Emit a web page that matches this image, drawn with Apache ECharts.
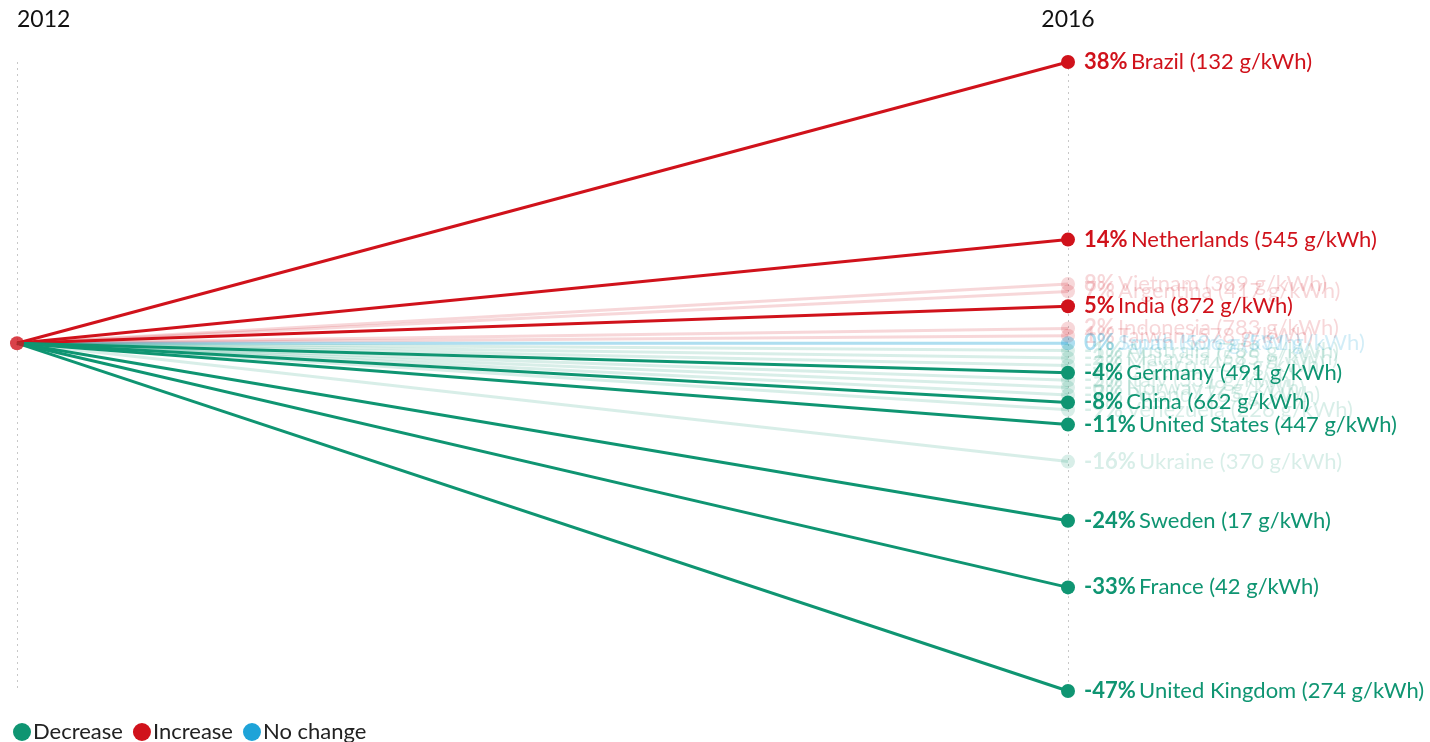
<!DOCTYPE html>
<html>
<head>
<meta charset="utf-8">
<script src="https://cdn.jsdelivr.net/npm/echarts@6/dist/echarts.min.js"></script>
<style>
  html, body { margin: 0; padding: 0; background: #fff; }
  #chart { width: 1430px; height: 742px; }
</style>
</head>
<body>
<div id="chart"></div>
<script>
// Carbon intensity of electricity: change between 2012 and 2016
const years = ['2012', '2016'];

// Highlighted countries
const keyCountries = ['Brazil', 'Netherlands', 'India', 'Germany', 'China', 'United States', 'Sweden', 'France', 'United Kingdom'];
const keyChange    = [38, 14, 5, -4, -8, -11, -24, -33, -47];
const keyIntensity = [132, 545, 872, 491, 662, 447, 17, 42, 274];

// Background countries
const otherCountries = ['Vietnam', 'Argentina', 'Indonesia', 'Taiwan', 'South Korea', 'Japan', 'Australia', 'Malaysia', 'Mexico', 'Italy', 'Norway', 'Poland', 'Venezuela', 'Ukraine'];
const otherChange    = [8, 7, 2, 1, 0, 0, -1, -2, -3, -5, -6, -7, -9, -16];
const otherIntensity = [389, 417, 783, 578, 531, 506, 758, 585, 454, 331, 9, 765, 226, 370];

const groupNames = ['Decrease', 'Increase', 'No change'];
const colors = { Decrease: '#0f9572', Increase: '#d0121b', 'No change': '#1ea3d8' };
const faded  = { Decrease: 'rgba(15,149,114,0.16)', Increase: 'rgba(208,18,27,0.17)', 'No change': 'rgba(30,163,216,0.2)' };

const FONT = 'Lato, "Open Sans", sans-serif';

function group(v) { return v > 0 ? 'Increase' : (v < 0 ? 'Decrease' : 'No change'); }

function makeSeries(name, change, intensity, strong) {
  const g = group(change);
  const c = strong ? colors[g] : faded[g];
  return {
    type: 'line',
    name: name,
    z: strong ? 10 : 2,
    silent: true,
    symbol: 'circle',
    symbolSize: 14,
    lineStyle: { color: c, width: 3 },
    itemStyle: { color: c },
    label: {
      show: true,
      position: 'right',
      distance: 9,
      formatter: () => '{p|' + change + '%} {n|' + name + ' (' + intensity + ' g/kWh)}',
      rich: {
        p: { fontFamily: FONT, fontSize: 22, fontWeight: 'bold', color: c },
        n: { fontFamily: FONT, fontSize: 22, color: c }
      }
    },
    data: [
      { value: 0, symbol: 'none', label: { show: false } },
      { value: change }
    ]
  };
}

const series = [];
otherCountries.forEach((n, i) => series.push(makeSeries(n, otherChange[i], otherIntensity[i], false)));
keyCountries.forEach((n, i) => series.push(makeSeries(n, keyChange[i], keyIntensity[i], true)));

// Common starting point
series.push({
  type: 'scatter', z: 20, silent: true,
  symbol: 'circle', symbolSize: 14,
  itemStyle: { color: colors.Increase },
  data: [[years[0], 0]]
});

// Legend entries
groupNames.forEach(g => series.push({ type: 'line', name: g, data: [], itemStyle: { color: colors[g] } }));

const chart = echarts.init(document.getElementById('chart'));
chart.setOption({
  animation: false,
  backgroundColor: '#fff',
  grid: { left: 17, right: 362, top: 62, bottom: 51 },
  xAxis: {
    type: 'category',
    position: 'top',
    boundaryGap: false,
    data: years,
    axisLine: { show: false },
    axisTick: { show: false },
    axisLabel: { color: '#111', fontFamily: FONT, fontSize: 23, margin: 31, alignMinLabel: 'left' },
    splitLine: { show: true, lineStyle: { color: '#c8c8c8', type: [2, 4], width: 1 } }
  },
  yAxis: {
    type: 'value', min: -47, max: 38,
    show: false,
    splitLine: { show: false }
  },
  legend: {
    data: groupNames,
    left: 8, top: 716,
    icon: 'circle',
    itemWidth: 18, itemHeight: 18, itemGap: 10,
    textStyle: { fontFamily: FONT, fontSize: 22, color: '#222', padding: [0, 0, 0, -3] }
  },
  series: series
});
</script>
</body>
</html>
